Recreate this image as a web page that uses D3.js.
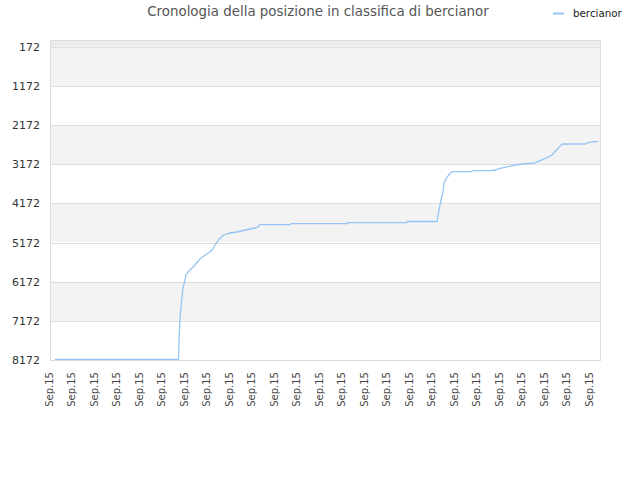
<!DOCTYPE html>
<html><head><meta charset="utf-8">
<script src="https://cdn.jsdelivr.net/npm/d3@7"></script>
<style>
html,body{margin:0;padding:0;background:#fff;}
svg{display:block;font-family:"DejaVu Sans",sans-serif;}
</style></head>
<body><svg id="c" width="640" height="480"></svg>
<script>
// ---- data ----
const title = "Cronologia della posizione in classifica di bercianor";
const seriesName = "bercianor";
const yTickValues = [172, 1172, 2172, 3172, 4172, 5172, 6172, 7172, 8172];
const xTickLabels = Array.from({length: 25}, () => "Sep.15");
const times = [0.22, 5.71, 5.73, 5.78, 5.82, 5.87, 5.91, 6.00, 6.04, 6.13, 6.27, 6.44, 6.67, 6.89, 7.11, 7.24, 7.33, 7.42, 7.56, 7.73, 8.00, 8.31, 8.67, 9.11, 9.24, 9.33, 10.67, 10.71, 13.23, 13.24, 15.85, 15.87, 17.20, 17.29, 17.38, 17.47, 17.51, 17.60, 17.69, 17.82, 17.91, 18.71, 18.76, 19.60, 19.78, 20.00, 20.22, 20.44, 20.67, 20.98, 21.24, 21.47, 21.69, 21.91, 22.13, 22.31, 22.44, 22.58, 22.71, 22.80, 23.78, 23.91, 24.22, 24.36];
const ranks = [8155, 8155, 7763, 7099, 6818, 6563, 6333, 6129, 6001, 5925, 5848, 5746, 5593, 5491, 5414, 5337, 5235, 5159, 5056, 4980, 4929, 4903, 4852, 4801, 4775, 4717, 4717, 4691, 4691, 4666, 4666, 4635, 4635, 4341, 4086, 3874, 3652, 3550, 3473, 3379, 3363, 3363, 3338, 3338, 3320, 3276, 3251, 3218, 3192, 3167, 3149, 3149, 3108, 3047, 2996, 2937, 2853, 2766, 2681, 2656, 2656, 2623, 2597, 2597];

// ---- layout ----
const svg = d3.select("#c");
const L = 50, R = 600, T = 40, B = 360;
const x = d3.scaleLinear().domain([0, 24.444]).range([L, R]);
const y = d3.scaleLinear().domain([0, 8172]).range([T, B]);

// bands
const bandEdges = [0].concat(yTickValues);
for (let i = 0; i < bandEdges.length - 1; i++) {
  const fill = i === 0 ? "#ececec" : (i % 2 === 1 ? "#f3f3f3" : "#ffffff");
  svg.append("rect").attr("x", L).attr("width", R - L)
    .attr("y", y(bandEdges[i])).attr("height", y(bandEdges[i + 1]) - y(bandEdges[i]))
    .attr("fill", fill);
}
// grid
svg.append("g").selectAll("line").data(yTickValues).join("line")
  .attr("x1", L).attr("x2", R).attr("y1", d => Math.round(y(d)) + 0.5).attr("y2", d => Math.round(y(d)) + 0.5)
  .attr("stroke", "#dedede").attr("stroke-width", 1);
// frame
svg.append("rect").attr("x", L + 0.5).attr("y", T + 0.5).attr("width", R - L).attr("height", B - T)
  .attr("fill", "none").attr("stroke", "#dcdcdc");

// y axis
const yAxis = d3.axisLeft(y).tickValues(yTickValues).tickSize(0).tickPadding(10).tickFormat(d3.format("d"));
const gy = svg.append("g").attr("transform", `translate(${L},0)`).call(yAxis);
gy.select(".domain").remove();
gy.selectAll("text").attr("font-size", 11).attr("fill", "#333").attr("font-family", "DejaVu Sans");

// x axis
const xAxis = d3.axisBottom(x).tickValues(d3.range(xTickLabels.length)).tickSize(0).tickPadding(0)
  .tickFormat(i => xTickLabels[i]);
const gx = svg.append("g").attr("transform", `translate(0,${B})`).call(xAxis);
gx.select(".domain").remove();
gx.selectAll("text").attr("font-size", 10).attr("fill", "#444").attr("font-family", "DejaVu Sans")
  .attr("text-anchor", "end").attr("dy", null)
  .attr("transform", "translate(2,12) rotate(-90)").attr("x", 0).attr("y", 0);

// line
const pts = times.map((t, i) => [t, ranks[i]]);
svg.append("path").datum(pts)
  .attr("fill", "none").attr("stroke", "#94c5f5").attr("stroke-width", 1.3)
  .attr("d", d3.line().x(d => x(d[0])).y(d => y(d[1])));

// title
svg.append("text").attr("x", 318).attr("y", 16).attr("text-anchor", "middle")
  .attr("font-size", 13.4).attr("fill", "#555").text(title);

// legend
svg.append("line").attr("x1", 553).attr("x2", 564).attr("y1", 13.5).attr("y2", 13.5)
  .attr("stroke", "#94c5f5").attr("stroke-width", 2);
svg.append("text").attr("x", 573).attr("y", 16.5).attr("font-size", 10.3).attr("fill", "#222").text(seriesName);
</script></body></html>
